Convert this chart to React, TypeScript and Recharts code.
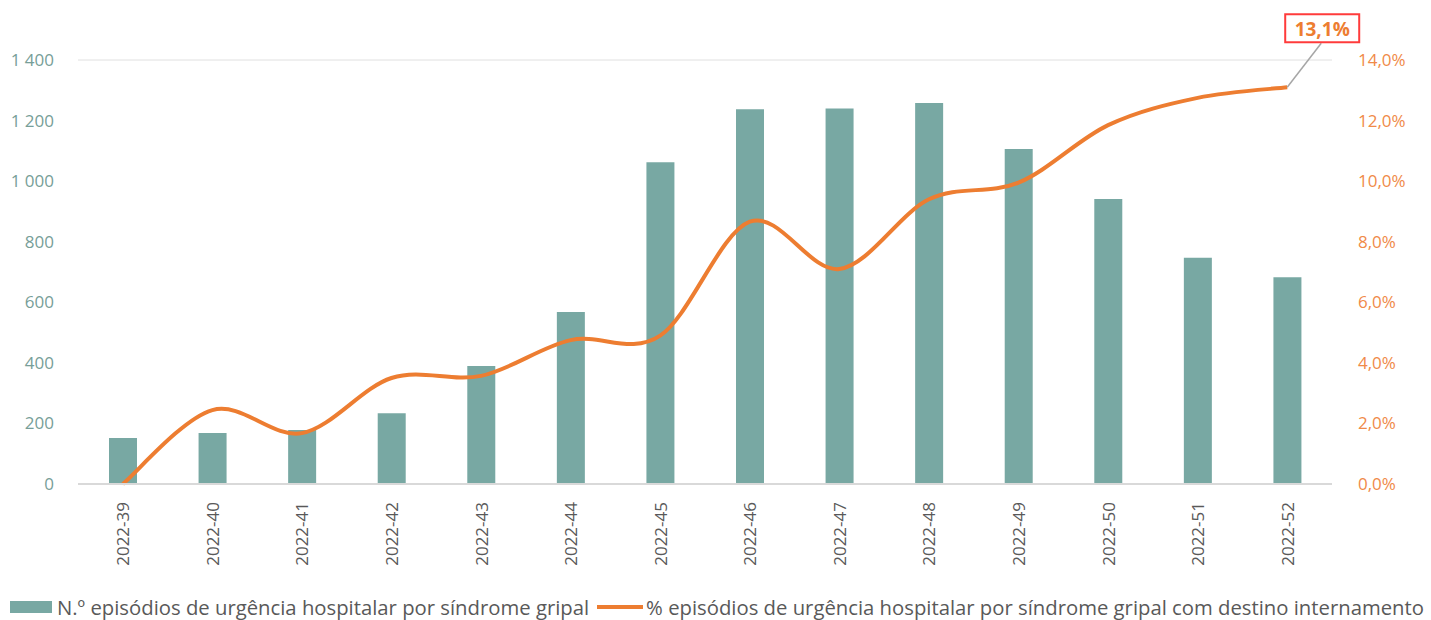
import React from 'react';
import {
  ComposedChart,
  Bar,
  Line,
  XAxis,
  YAxis,
  CartesianGrid,
  Legend,
  LabelList,
} from 'recharts';

const weeks = [
  '2022-39', '2022-40', '2022-41', '2022-42', '2022-43', '2022-44', '2022-45',
  '2022-46', '2022-47', '2022-48', '2022-49', '2022-50', '2022-51', '2022-52',
];
const episodes = [152, 168, 178, 234, 390, 568, 1062, 1237, 1240, 1258, 1106, 941, 747, 683];
const pctInternamento = [0.0, 2.44, 1.68, 3.5, 3.57, 4.75, 4.9, 8.66, 7.1, 9.4, 9.95, 11.85, 12.75, 13.1];

const leftTicks = [0, 200, 400, 600, 800, 1000, 1200, 1400];
const rightTicks = [0, 2, 4, 6, 8, 10, 12, 14];

const BAR_NAME = 'N.º episódios de urgência hospitalar por síndrome gripal';
const LINE_NAME = '% episódios de urgência hospitalar por síndrome gripal com destino internamento';

const data = weeks.map((week, i) => ({
  week,
  episodes: episodes[i],
  pct: pctInternamento[i],
}));

const COLORS = {
  bar: '#78a8a3',
  line: '#ed7d31',
  leftAxis: '#779e98',
  rightAxis: '#f08a48',
  text: '#595959',
  grid: '#e0e0e0',
  callout: '#ff3b3b',
};

const FONT = '"Open Sans", sans-serif';

const fmtThousands = (v: number) => String(v).replace(/\B(?=(\d{3})+(?!\d))/g, ' ');
const fmtPct = (v: number) => `${v.toFixed(1).replace('.', ',')}%`;

// Smoothed line like a spreadsheet's: cubic Bézier with control points at 1/6 of the neighbour span
const smoothCurve = (context: any) => {
  let pts: [number, number][] = [];
  return {
    areaStart() {},
    areaEnd() {},
    lineStart() {
      pts = [];
    },
    lineEnd() {
      const n = pts.length;
      if (!n) return;
      context.moveTo(pts[0][0], pts[0][1]);
      for (let i = 0; i < n - 1; i++) {
        const p0 = pts[Math.max(0, i - 1)];
        const p1 = pts[i];
        const p2 = pts[i + 1];
        const p3 = pts[Math.min(n - 1, i + 2)];
        context.bezierCurveTo(
          p1[0] + (p2[0] - p0[0]) / 6,
          p1[1] + (p2[1] - p0[1]) / 6,
          p2[0] - (p3[0] - p1[0]) / 6,
          p2[1] - (p3[1] - p1[1]) / 6,
          p2[0],
          p2[1],
        );
      }
    },
    point(x: number, y: number) {
      pts.push([+x, +y]);
    },
  };
};

const WeekTick = (props: any) => {
  const { x, y, payload } = props;
  return (
    <text
      x={0}
      y={0}
      transform={`translate(${x},${y + 10}) rotate(-90)`}
      textAnchor="end"
      dominantBaseline="central"
      fill={COLORS.text}
      fontSize={17}
      fontFamily={FONT}
    >
      {payload.value}
    </text>
  );
};

// Boxed value callout on the last point of the line
const LastValueCallout = (props: any) => {
  const { x, y, value, index } = props;
  if (index !== weeks.length - 1) return null;
  const bx = x - 2;
  const by = y - 73;
  return (
    <g>
      <line x1={x} y1={y} x2={x + 34} y2={y - 44} stroke="#a6a6a6" strokeWidth={1.5} />
      <rect x={bx} y={by} width={74} height={28} fill="#fff" stroke={COLORS.callout} strokeWidth={2} />
      <text
        x={bx + 37}
        y={by + 15}
        textAnchor="middle"
        dominantBaseline="central"
        fill={COLORS.line}
        fontSize={19}
        fontWeight={700}
        fontFamily={FONT}
      >
        {fmtPct(value)}
      </text>
    </g>
  );
};

const renderLegend = () => (
  <div
    style={{
      display: 'flex',
      alignItems: 'center',
      fontFamily: FONT,
      fontSize: 20.3,
      lineHeight: '26px',
      color: COLORS.text,
      whiteSpace: 'nowrap',
      paddingLeft: 10,
      paddingTop: 14,
    }}
  >
    <span style={{ display: 'inline-block', width: 42, height: 12, background: COLORS.bar, marginRight: 5 }} />
    <span style={{ marginRight: 8 }}>{BAR_NAME}</span>
    <span style={{ display: 'inline-block', width: 46, height: 4, background: COLORS.line, marginRight: 3 }} />
    <span>{LINE_NAME}</span>
  </div>
);

export default function App() {
  return (
    <div style={{ position: 'absolute', left: 0, top: 0, width: 1431, height: 620, background: '#fff' }}>
      <ComposedChart
        width={1431}
        height={620}
        data={data}
        margin={{ top: 60, right: 0, bottom: 0, left: 0 }}
      >
        <CartesianGrid vertical={false} stroke={COLORS.grid} strokeWidth={1} />
        <XAxis
          dataKey="week"
          height={96}
          interval={0}
          tickLine={false}
          axisLine={{ stroke: '#d9d9d9', strokeWidth: 2 }}
          tick={<WeekTick />}
        />
        <YAxis
          yAxisId="left"
          width={78}
          domain={[0, 1400]}
          ticks={leftTicks}
          tickFormatter={fmtThousands}
          axisLine={false}
          tickLine={false}
          tickMargin={18}
          tick={{ fill: COLORS.leftAxis, fontSize: 17, fontFamily: FONT }}
        />
        <YAxis
          yAxisId="right"
          orientation="right"
          width={99}
          domain={[0, 14]}
          ticks={rightTicks}
          tickFormatter={fmtPct}
          axisLine={false}
          tickLine={false}
          tickMargin={20}
          tick={{ fill: COLORS.rightAxis, fontSize: 17, fontFamily: FONT, textAnchor: 'start' }}
        />
        <Legend verticalAlign="bottom" height={40} content={renderLegend} />
        <Bar
          yAxisId="left"
          dataKey="episodes"
          name={BAR_NAME}
          fill={COLORS.bar}
          barSize={28}
          isAnimationActive={false}
        />
        <Line
          yAxisId="right"
          dataKey="pct"
          name={LINE_NAME}
          type={smoothCurve as any}
          stroke={COLORS.line}
          strokeWidth={4}
          dot={false}
          activeDot={false}
          isAnimationActive={false}
        >
          <LabelList dataKey="pct" content={<LastValueCallout />} />
        </Line>
      </ComposedChart>
    </div>
  );
}
